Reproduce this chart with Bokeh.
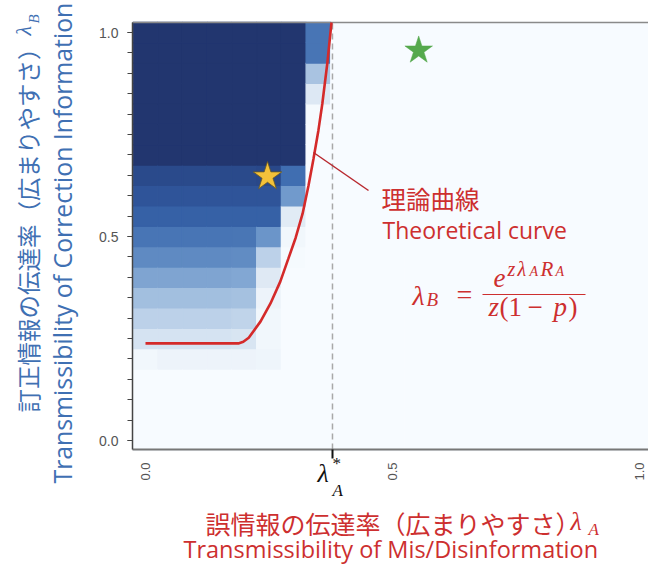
import math
import numpy as np
from bokeh.plotting import figure
from bokeh.models import (Range1d, FixedTicker, PrintfTickFormatter, Label, LinearAxis,
                          ColumnDataSource)
from bokeh.transform import linear_cmap
from bokeh.embed import file_html
from bokeh.resources import INLINE

# ---------------- data ----------------
lambda_a_grid = [0.00, 0.05, 0.10, 0.15, 0.20, 0.25, 0.30, 0.35, 0.40, 0.45, 0.50,
                 0.55, 0.60, 0.65, 0.70, 0.75, 0.80, 0.85, 0.90, 0.95, 1.00]
lambda_b_grid = [0.00, 0.05, 0.10, 0.15, 0.20, 0.25, 0.30, 0.35, 0.40, 0.45, 0.50,
                 0.55, 0.60, 0.65, 0.70, 0.75, 0.80, 0.85, 0.90, 0.95, 1.00]

# share of runs where correction wins, per lambda_A column (bottom -> top in lambda_B)
col_a000 = [0, 0, 0, 0, 0.03, 0.15, 0.24, 0.32, 0.43, 0.55, 0.66, 0.77, 0.84, 0.90, 1, 1, 1, 1, 1, 1, 1]
col_a005 = [0, 0, 0, 0, 0.05, 0.15, 0.24, 0.32, 0.43, 0.55, 0.66, 0.77, 0.84, 0.90, 1, 1, 1, 1, 1, 1, 1]
col_a010 = [0, 0, 0, 0, 0.05, 0.15, 0.24, 0.32, 0.43, 0.55, 0.66, 0.77, 0.84, 0.90, 1, 1, 1, 1, 1, 1, 1]
col_a015 = [0, 0, 0, 0, 0.05, 0.15, 0.24, 0.32, 0.43, 0.55, 0.66, 0.77, 0.84, 0.90, 1, 1, 1, 1, 1, 1, 1]
col_a020 = [0, 0, 0, 0, 0.05, 0.14, 0.23, 0.31, 0.42, 0.54, 0.65, 0.77, 0.84, 0.90, 1, 1, 1, 1, 1, 1, 1]
col_a025 = [0, 0, 0, 0, 0.04, 0.03, 0.03, 0.05, 0.11, 0.24, 0.50, 0.77, 0.84, 0.91, 1, 1, 1, 1, 1, 1, 1]
col_a030 = [0, 0, 0, 0, 0, 0, 0, 0, 0, 0.01, 0.03, 0.10, 0.48, 0.70, 1, 1, 1, 1, 1, 1, 1]
col_a035 = [0, 0, 0, 0, 0, 0, 0, 0, 0, 0, 0, 0, 0, 0, 0, 0, 0.01, 0.12, 0.30, 0.66, 0.66]
measured_columns = {0.00: col_a000, 0.05: col_a005, 0.10: col_a010, 0.15: col_a015,
                    0.20: col_a020, 0.25: col_a025, 0.30: col_a030, 0.35: col_a035}

# theoretical curve lambda_B(lambda_A)
curve_lambda_a = [0.000, 0.188, 0.198, 0.209, 0.233, 0.253, 0.273, 0.289, 0.304,
                  0.318, 0.330, 0.340, 0.350, 0.358, 0.368, 0.3765]
curve_lambda_b = [0.238, 0.238, 0.242, 0.252, 0.292, 0.336, 0.390, 0.445, 0.497,
                  0.556, 0.625, 0.690, 0.760, 0.826, 0.924, 1.0245]

lambda_a_star = 0.3785
yellow_star = [0.247, 0.647]
green_star = [0.553, 0.956]
x_tick_values = [0.0, 0.5, 1.0]
y_tick_values = [0.0, 0.5, 1.0]

# ---------------- build grid ----------------
gx, gy, gv = [], [], []
for xa_ in lambda_a_grid:
    col = measured_columns.get(xa_, [0] * len(lambda_b_grid))
    for yb, v in zip(lambda_b_grid, col):
        gx.append(xa_); gy.append(yb); gv.append(v)
src = ColumnDataSource(dict(x=gx, y=gy, v=gv))

# palette (light -> dark blue)
anchors = [(0.0, "#f7fbff"), (0.1, "#e1ebf5"), (0.2, "#c9daee"), (0.3, "#a8c3e1"),
           (0.4, "#88abd5"), (0.5, "#6b95c9"), (0.6, "#537fba"), (0.7, "#406eb1"),
           (0.8, "#325ca2"), (0.9, "#2a4a8c"), (1.0, "#22366f")]
def _rgb(h):
    return [int(h[i:i + 2], 16) for i in (1, 3, 5)]
pos = [a[0] for a in anchors]
rgbs = np.array([_rgb(a[1]) for a in anchors], dtype=float)
palette = []
for t in np.linspace(0, 1, 256):
    c = [np.interp(t, pos, rgbs[:, k]) for k in range(3)]
    palette.append("#%02x%02x%02x" % tuple(int(round(q)) for q in c))

# ---------------- figure ----------------
W, H = 648, 565
PX0, SX, PY0, SY = 145.0, 494.0, 440.0, 408.0   # px of data origin, px per unit
def dx(px):
    return (px - PX0) / SX
def dy(py):
    return (PY0 - py) / SY

FL, FR, FT, FB = 132, 648, 22, 449   # plot panel edges in px

p = figure(width=W, height=H, output_backend="svg", toolbar_location=None,
           x_range=Range1d(dx(0), dx(W)), y_range=Range1d(dy(H), dy(0)),
           x_axis_location=None, y_axis_location=None, min_border=0)
p.background_fill_color = "white"
p.border_fill_color = "white"
p.outline_line_color = None
p.grid.visible = False

cmap = linear_cmap("v", palette, 0, 1)
p.rect("x", "y", width=0.05, height=0.05, source=src, fill_color=cmap,
       line_color=cmap, line_width=1.2)

RED = "#cd2f2f"
BLUE = "#3f70b3"

# dashed line at lambda_A*
p.segment(x0=[lambda_a_star], y0=[dy(FB)], x1=[lambda_a_star], y1=[dy(FT)],
          line_color="#a8a8a8", line_dash="6 4", line_width=1.5)
# top border
p.segment(x0=[dx(FL)], y0=[dy(FT)], x1=[dx(W)], y1=[dy(FT)], line_color="#8a8a8a", line_width=1.5)

# theoretical curve
p.line(curve_lambda_a, curve_lambda_b, line_color="#d42a2a", line_width=2.6)

# connector line to annotation
p.segment(x0=[dx(313)], y0=[dy(152)], x1=[dx(368)], y1=[dy(190)],
          line_color="#b8282e", line_width=1.5)

# stars
p.scatter([yellow_star[0]], [yellow_star[1]], marker="star", size=30,
          fill_color="#f3c13a", line_color="#6b5a22", line_width=0.8)
p.scatter([green_star[0]], [green_star[1]], marker="star", size=29,
          fill_color="#55a94d", line_color="#55a94d", line_width=0.5)

# ---------------- axes (fixed at the panel edges) ----------------
ya = LinearAxis(fixed_location=dx(FL), bounds=(dy(FB), dy(FT)))
ya.ticker = FixedTicker(ticks=y_tick_values, minor_ticks=lambda_b_grid)
ya.formatter = PrintfTickFormatter(format="%.1f")
ya.axis_line_color = "#444444"; ya.axis_line_width = 1.5
ya.major_tick_line_color = "#444444"; ya.minor_tick_line_color = "#444444"
ya.major_tick_out = 5; ya.major_tick_in = 0; ya.minor_tick_out = 5; ya.minor_tick_in = 0
ya.major_label_standoff = 9
ya.major_label_text_font = "Liberation Sans"
ya.major_label_text_font_size = "14px"
ya.major_label_text_color = "#555555"
p.add_layout(ya, "left")

xa = LinearAxis(fixed_location=dy(FB), bounds=(dx(FL), dx(W)))
xa.ticker = FixedTicker(ticks=x_tick_values, minor_ticks=[])
xa.formatter = PrintfTickFormatter(format="%.1f")
xa.axis_line_color = "#777777"; xa.axis_line_width = 2
xa.major_tick_out = 0; xa.major_tick_in = 0
xa.major_tick_line_color = None
xa.major_label_orientation = math.pi / 2
xa.major_label_standoff = 13
xa.major_label_text_font = "Liberation Sans"
xa.major_label_text_font_size = "13px"
xa.major_label_text_color = "#555555"
p.add_layout(xa, "below")

xs = LinearAxis(fixed_location=dy(FB), bounds=(dx(FL), dx(W)))
xs.ticker = FixedTicker(ticks=[lambda_a_star], minor_ticks=[])
xs.axis_line_color = None
xs.major_tick_line_color = "#111111"; xs.major_tick_line_width = 2
xs.major_tick_out = 9; xs.major_tick_in = 0
xs.major_label_text_color = None
p.add_layout(xs, "below")

def lab(x, y, text, size, color, font="Open Sans", style="normal", angle=0.0,
        align="left", baseline="middle"):
    p.add_layout(Label(x=x, y=y, text=text, text_font=font, text_font_size=size,
                       text_font_style=style, text_color=color, angle=angle,
                       text_align=align, text_baseline=baseline))

SERIF = "Liberation Serif"
AB = "alphabetic"
# lambda_A* tick label
lab(dx(317), dy(473), "λ", "26px", "#111111", font=SERIF, style="italic", baseline=AB)
lab(dx(332), dy(463), "*", "17px", "#111111", font=SERIF, baseline=AB)
lab(dx(332), dy(490), "A", "17px", "#111111", font=SERIF, style="italic", baseline=AB)

# x axis title
lab(dx(205), dy(522), "誤情報の伝達率（広まりやすさ）", "25px", RED, font="Noto Sans CJK JP")
lab(dx(570), dy(521), "λ", "26px", RED, font=SERIF, style="italic", baseline=AB)
lab(dx(588), dy(529), "A", "17px", RED, font=SERIF, style="italic", baseline=AB)
lab(dx(183), dy(548), "Transmissibility of Mis/Disinformation", "23.5px", RED, baseline=AB)

# y axis title (rotated)
lab(dx(27), dy(412), "訂正情報の伝達率（広まりやすさ）", "23.5px", BLUE,
    font="Noto Sans CJK JP", angle=math.pi / 2)
lab(dx(23), dy(35), "λ", "22px", BLUE, font=SERIF, style="italic", angle=math.pi / 2,
    baseline=AB)
lab(dx(33), dy(23), "B", "15px", BLUE, font=SERIF, style="italic", angle=math.pi / 2,
    baseline=AB)
lab(dx(61), dy(483), "Transmissibility of Correction Information", "24.8px", BLUE,
    angle=math.pi / 2, baseline=AB)

# annotation
lab(dx(381), dy(198), "理論曲線", "24.5px", RED, font="Noto Sans CJK JP")
lab(dx(382), dy(229), "Theoretical curve", "23px", RED, baseline=AB)

# formula  lambda_B = e^{z lambda_A R_A} / (z(1-p))
lab(dx(412), dy(295), "λ", "28px", RED, font=SERIF, style="italic", baseline=AB)
lab(dx(426), dy(299), "B", "19px", RED, font=SERIF, style="italic", baseline=AB)
lab(dx(456), dy(294), "=", "28px", RED, font=SERIF, baseline=AB)
p.segment(x0=[dx(482)], y0=[dy(294)], x1=[dx(585)], y1=[dy(294)], line_color=RED, line_width=1.2)
lab(dx(493), dy(277), "e", "27px", RED, font=SERIF, style="italic", baseline=AB)
lab(dx(507), dy(268), "z", "20px", RED, font=SERIF, style="italic", baseline=AB)
lab(dx(517), dy(268), "λ", "20px", RED, font=SERIF, style="italic", baseline=AB)
lab(dx(529), dy(271), "A", "14px", RED, font=SERIF, style="italic", baseline=AB)
lab(dx(540), dy(268), "R", "21px", RED, font=SERIF, style="italic", baseline=AB)
lab(dx(555), dy(271), "A", "14px", RED, font=SERIF, style="italic", baseline=AB)
lab(dx(488), dy(306), "z", "27px", RED, font=SERIF, style="italic", baseline=AB)
lab(dx(499), dy(306), "(1", "27px", RED, font=SERIF, baseline=AB)
lab(dx(527), dy(306), "−", "27px", RED, font=SERIF, baseline=AB)
lab(dx(553), dy(306), "p", "27px", RED, font=SERIF, style="italic", baseline=AB)
lab(dx(568), dy(306), ")", "27px", RED, font=SERIF, baseline=AB)

open("out.html", "w").write(file_html(p, INLINE))
